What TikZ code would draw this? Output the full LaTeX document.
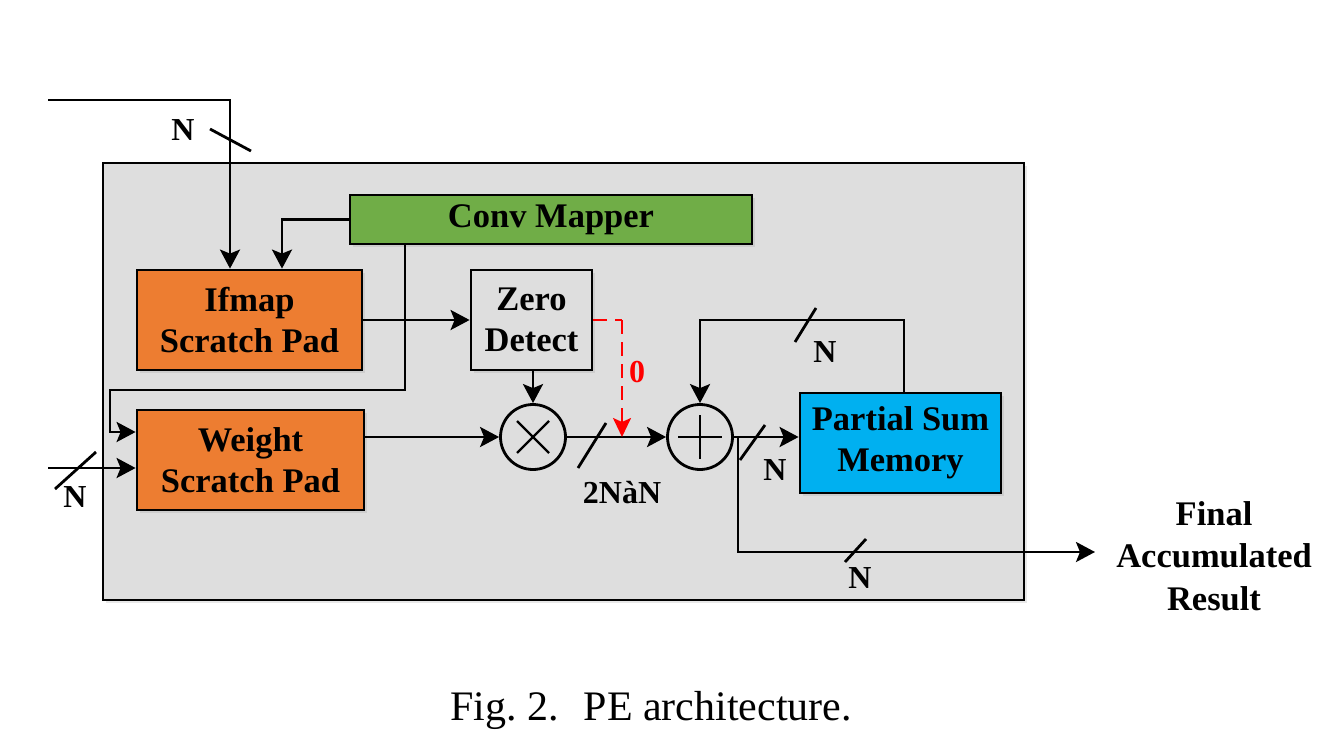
\documentclass[tikz,border=0pt]{standalone}
\usepackage{fontspec}
\setmainfont{Liberation Serif}
\usetikzlibrary{arrows.meta,shadows,calc}
\definecolor{boxgray}{HTML}{DEDEDE}
\definecolor{ored}{HTML}{ED7D31}
\definecolor{mgreen}{HTML}{70AD47}
\definecolor{mcyan}{HTML}{00B0F0}
\tikzset{
  lw/.style={line width=2.8pt},
  arr/.style={lw,-{Stealth[length=19pt,width=20pt,inset=4pt]}},
  blk/.style={draw,lw,rectangle,inner sep=0pt,align=center,
     font=\fontsize{34.5}{41}\selectfont\bfseries,
     drop shadow={opacity=0.18,shadow xshift=3pt,shadow yshift=-3pt}},
  opnode/.style={draw,lw,circle,inner sep=0pt,minimum size=65pt,fill=boxgray},
  slash/.style={lw},
  lab/.style={font=\fontsize{32}{36}\selectfont\bfseries,inner sep=0pt},
}
\begin{document}
\begin{tikzpicture}[x=1pt,y=-1pt]
\useasboundingbox (0,0) rectangle (1327,752);
% outer PE box
\node[blk,fill=boxgray,minimum width=921pt,minimum height=437pt] (pe) at (563.5,381.5) {};
% blocks
\node[blk,fill=mgreen,minimum width=402pt,minimum height=49pt] (conv) at (551,219.5) {Conv Mapper};
\node[blk,fill=ored,minimum width=225pt,minimum height=100pt] (ifmap) at (249.5,320) {Ifmap\\Scratch Pad};
\node[blk,fill=ored,minimum width=227pt,minimum height=100pt] (weight) at (250.5,460) {Weight\\Scratch Pad};
\node[blk,fill=boxgray,minimum width=121pt,minimum height=100pt] (zero) at (531.5,320) {Zero\\Detect};
\node[blk,fill=mcyan,minimum width=201pt,minimum height=100pt] (psm) at (900.5,443) {Partial Sum\\Memory};
\node[opnode] (mult) at (533,437) {};
\node[opnode] (add) at (700,437) {};
% operator symbols
\draw[line width=2.2pt] ($(mult.center)+(-16,-16)$) -- ($(mult.center)+(16,16)$)
  ($(mult.center)+(-16,16)$) -- ($(mult.center)+(16,-16)$);
\draw[line width=2.2pt] ($(add.center)+(-22,0)$) -- ($(add.center)+(22,0)$)
  ($(add.center)+(0,-22)$) -- ($(add.center)+(0,22)$);
% coordinates
\coordinate (inA) at (48,100);
\coordinate (inB) at (48,468);
\coordinate (cs) at ([xshift=-146pt]conv.south);
\coordinate (wl) at (110,390);
\coordinate (rs) at (622,320);
\coordinate (rd) at (622,437);
\coordinate (fb) at ([xshift=3.5pt]psm.north);
\coordinate (oj) at (738,437);
\coordinate (out) at (1095,552);
% connectors
\draw[arr] (inA) -| ([xshift=-19.5pt]ifmap.north);
\draw[arr] (conv.west) -| ([xshift=32.5pt]ifmap.north);
\draw[arr] (cs) |- (wl) |- ([yshift=28pt]weight.west);
\draw[arr] (inB) -- (inB -| weight.west);
\draw[arr] (ifmap.east) -- (zero.west);
\draw[arr] (zero.south -| mult.north) -- (mult.north);
\draw[arr] (weight.east |- mult.west) -- (mult.west);
\draw[arr] (mult.east) -- (add.west);
\draw[arr] (add.east) -- (add.east -| psm.west);
\draw[arr] (fb) |- (add.north |- rs) -- (add.north);
\draw[arr] (oj) |- (out);
\draw[red,line width=2.2pt,dash pattern=on 14pt off 8pt] (zero.east) -- (rs);
\draw[red,line width=2.2pt,dash pattern=on 14pt off 8pt,-{Stealth[length=19pt,width=18pt,inset=4pt]}] (rs) -- (rd);
% bus slashes
\draw[slash] (210,129) -- (251,151);
\draw[slash] (55,489) -- (96,452);
\draw[slash] (578,468) -- (606,423);
\draw[slash] (740,460) -- (765,425);
\draw[slash] (795,342) -- (816,308);
\draw[slash] (845,562) -- (866,539);
% labels
\node[lab] (nA) at (183,130) {N};
\node[lab] (nB) at (75,497) {N};
\node[lab] (nM) at (622,493) {2NàN};
\node[lab,text=red] (n0) at (637,372) {0};
\node[lab] (nP) at (775,470) {N};
\node[lab] (nF) at (825,352) {N};
\node[lab] (nO) at (860,578) {N};
\node[align=center,font=\fontsize{34.5}{42.5}\selectfont\bfseries] (res) at (1214,556) {Final\\Accumulated\\Result};
\node[font=\fontsize{42}{48}\selectfont] (cap) at (651,710) {Fig.~2.\hspace{0.6em}PE architecture.};
\end{tikzpicture}
\end{document}
